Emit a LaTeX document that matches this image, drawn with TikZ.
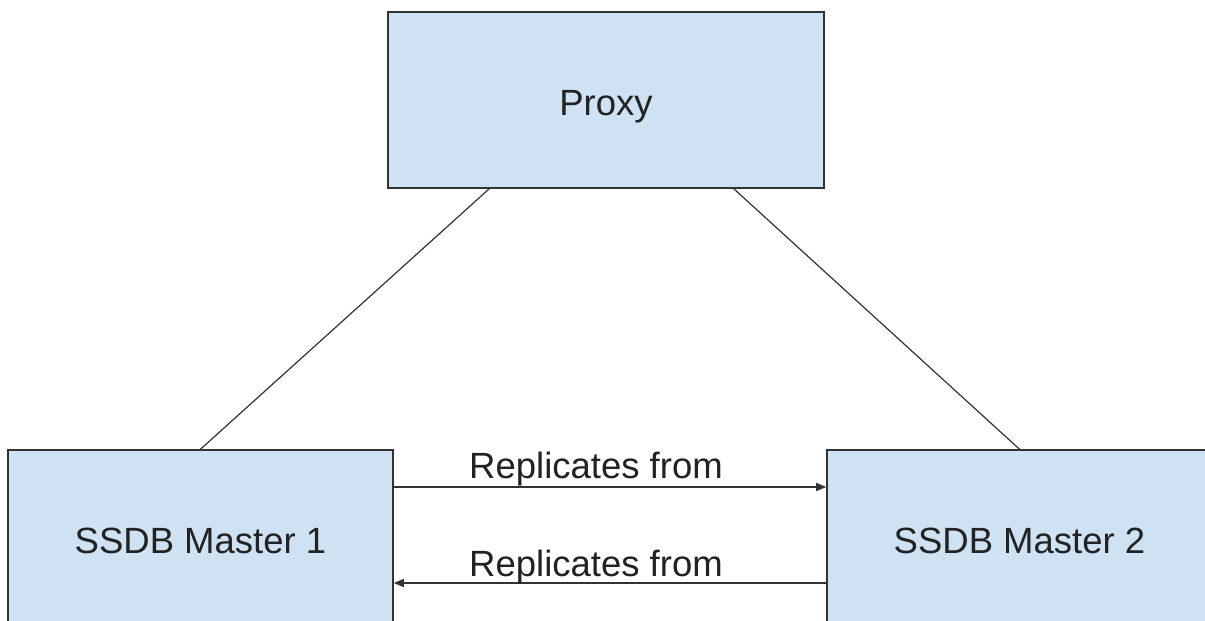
\documentclass[tikz,border=0pt]{standalone}
\usepackage{fontspec}
\setmainfont{Liberation Sans}
\usetikzlibrary{arrows.meta}
\definecolor{boxfill}{HTML}{CFE2F3}
\definecolor{boxline}{HTML}{333333}
\definecolor{txt}{HTML}{222222}
\begin{document}
\begin{tikzpicture}[x=1pt,y=-1pt,
  server/.style={draw=boxline,line width=1.6pt,fill=boxfill,minimum width=#1,minimum height=176pt,inner sep=0pt,
    text height=30pt,text depth=0pt,font=\fontsize{36.5}{44}\selectfont,text=txt},
  link/.style={draw=boxline,line width=1.2pt},
  repl/.style={draw=boxline,line width=1.2pt,-{Triangle[length=10pt,width=8pt]}},
  lbl/.style={font=\fontsize{36.5}{44}\selectfont,text=txt,anchor=base,inner sep=0pt}]
\useasboundingbox (0,0) rectangle (1205,621);
\clip (0,0) rectangle (1205,621);
\fill[white] (0,0) rectangle (1205,621);
\node[server=436pt] (proxy) at (606,100) {Proxy};
\node[server=385pt] (m1) at (200.5,538) {SSDB Master 1};
\node[server=385pt] (m2) at (1019.5,538) {SSDB Master 2};
\draw[link] ([xshift=102pt]proxy.south west) -- (m1.north);
\draw[link] ([xshift=-91pt]proxy.south east) -- (m2.north);
\draw[repl] ([yshift=51pt]m1.east) -- ([yshift=51pt]m2.west);
\draw[repl] ([yshift=-45pt]m2.west) -- ([yshift=-45pt]m1.east);
\node[lbl] (l1) at (596,478) {Replicates from};
\node[lbl] (l2) at (596,576) {Replicates from};
\end{tikzpicture}
\end{document}
